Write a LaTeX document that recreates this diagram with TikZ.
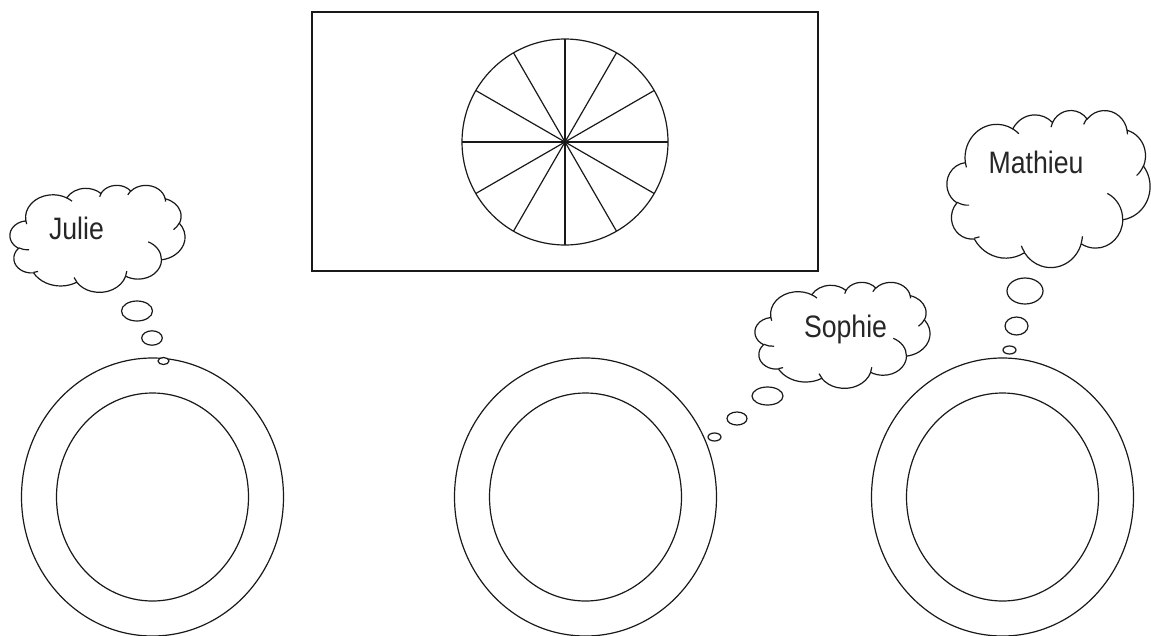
\documentclass[tikz,border=0pt]{standalone}
\usepackage{fontspec}
\setmainfont{Liberation Sans}
\newfontfamily\narrowfont[FakeStretch=0.86]{Liberation Sans}
\tikzset{
  ink/.style={draw=black!90, line width=1.2pt},
  puff/.style={ink, fill=white},
  nametext/.style={font=\narrowfont\fontsize{31}{31}\selectfont, text=black!85, inner sep=0pt, anchor=base},
  plateouter/.style={ink, x radius=131, y radius=139},
  plateinner/.style={ink, x radius=96, y radius=104},
}
% arc given OOXML-style: radii, visual start angle, sweep (degrees)
\newcommand\oarc[4]{arc[x radius=#1, y radius=#2,
  start angle={atan2((#1)*sin(#3),(#2)*cos(#3))},
  delta angle={mod(atan2((#1)*sin((#3)+(#4)),(#2)*cos((#3)+(#4)))-atan2((#1)*sin(#3),(#2)*cos(#3))+720,360)}]}
\newcommand\cloudoutline{(39.00,143.70)
  \oarc{67.53}{91.90}{-190.4875}{123.7805}
  \oarc{53.33}{72.67}{-144.1024}{89.9452}
  \oarc{43.65}{59.45}{-145.8079}{99.7230}
  \oarc{48.57}{65.95}{-130.9861}{117.2417}
  \oarc{53.33}{72.73}{-78.7089}{109.0269}
  \oarc{67.75}{92.20}{-46.2673}{130.2690}
  \oarc{57.85}{78.67}{0.6250}{114.0333}
  \oarc{67.52}{92.15}{22.4516}{115.1726}
  \oarc{77.20}{105.43}{66.2426}{75.7110}
  \oarc{43.60}{59.18}{-274.9421}{146.7356}
  \oarc{43.45}{59.45}{-246.8285}{152.5189}
  -- cycle}
\newcommand\cloudinner{
  (46.93,261.77) \oarc{43.45}{59.45}{86.7420}{26.4295}
  (69.28,348.99) \oarc{43.60}{59.18}{73.6105}{11.4475}
  (164.78,390.90) \oarc{67.52}{92.15}{137.6242}{14.0811}
  (288.27,347.51) \oarc{67.52}{92.15}{6.4533}{15.9984}
  (341.29,229.54) \oarc{57.85}{78.67}{-70.2924}{70.9174}
  (417.98,153.54) \oarc{53.33}{72.73}{30.3180}{27.7515}
  (383.24,54.26) \oarc{48.57}{65.95}{-13.7443}{14.8589}
  (290.78,39.52) \oarc{48.57}{65.95}{-149.1815}{18.1954}
  (221.41,47.20) \oarc{43.65}{59.45}{-163.4943}{17.6864}
  (140.00,51.92) \oarc{67.53}{91.90}{-66.7070}{12.3194}
  (41.27,157.89) \oarc{67.53}{91.90}{157.6544}{11.8582}}
\begin{document}
\begin{tikzpicture}[x=1pt, y=-1pt]
  \fill[white] (0,0) rectangle (1151,635);
  \useasboundingbox (0,0) rectangle (1151,635);

  % board with wheel
  \draw[ink] (312,12) rectangle (818,271);
  \coordinate (hub) at (565,142);
  \draw[ink] (hub) circle [radius=103];
  \foreach \a in {0,30,...,330} \draw[ink] (hub) -- ++(\a:103);

  % plates
  \coordinate (plateL) at (152.5,497);
  \coordinate (plateM) at (585.5,497);
  \coordinate (plateR) at (1002.5,497);
  \foreach \p in {plateL,plateM,plateR} {
    \draw[ink] (\p) ellipse [x radius=131, y radius=139];
    \draw[ink] (\p) ellipse [x radius=96, y radius=104];
  }

  % clouds
  \begin{scope}[shift={(10,185)}, x=175/432*1pt, y=-107/432*1pt]
    \path[puff] \cloudoutline;
    \draw[ink] \cloudinner;
  \end{scope}
  \begin{scope}[shift={(947,110)}, x=203/432*1pt, y=-157/432*1pt]
    \path[puff] \cloudoutline;
    \draw[ink] \cloudinner;
  \end{scope}
  \begin{scope}[shift={(755,282)}, x=175/432*1pt, y=-106/432*1pt]
    \path[puff] \cloudoutline;
    \draw[ink] \cloudinner;
  \end{scope}

  \node[nametext] (julie) at (76.5,239) {Julie};
  \node[nametext] (mathieu) at (1036,173) {Mathieu};
  \node[nametext] (sophie) at (845.5,337) {Sophie};

  % thought bubbles
  \draw[puff] (137,311) ellipse [x radius=15.5, y radius=10];
  \draw[puff] (152,338) ellipse [x radius=10.3, y radius=7.2];
  \draw[puff] (163.5,361) ellipse [x radius=5.5, y radius=3.5];

  \draw[puff] (767.5,396) ellipse [x radius=15.5, y radius=9];
  \draw[puff] (737,418.5) ellipse [x radius=10, y radius=6.5];
  \draw[puff] (714.5,437) ellipse [x radius=6.5, y radius=4];

  \draw[puff] (1025,291) ellipse [x radius=18, y radius=13];
  \draw[puff] (1016.5,326) ellipse [x radius=11.5, y radius=9];
  \draw[puff] (1009.5,350) ellipse [x radius=6.5, y radius=4];
\end{tikzpicture}
\end{document}
